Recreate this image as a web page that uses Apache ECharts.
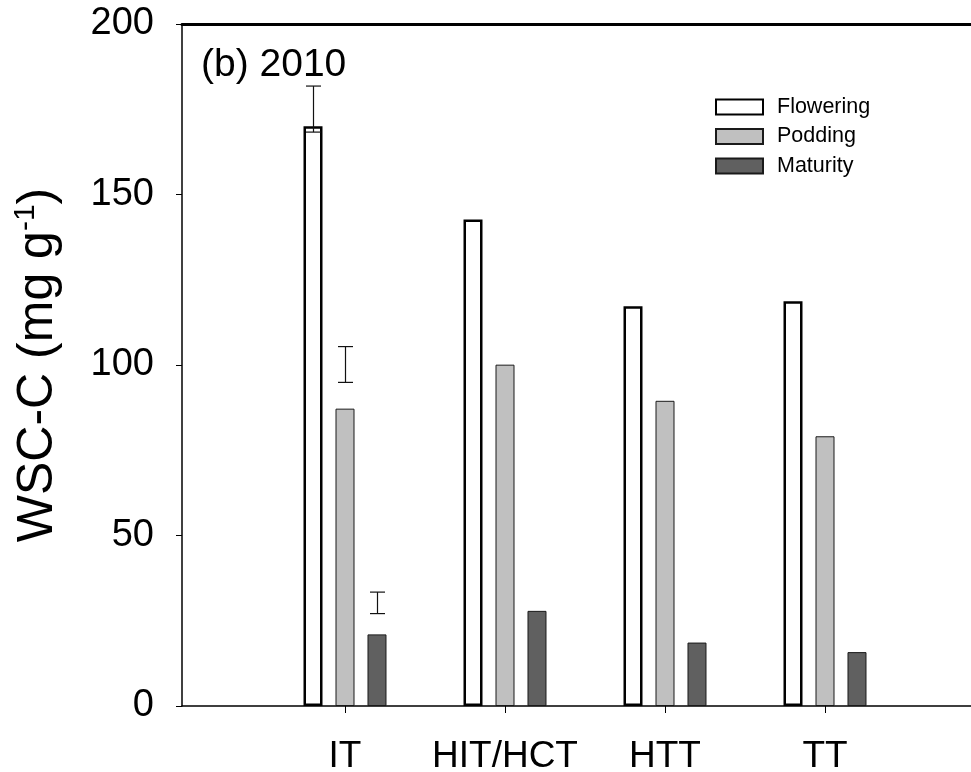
<!DOCTYPE html>
<html>
<head>
<meta charset="utf-8">
<script src="https://cdn.jsdelivr.net/npm/echarts@6/dist/echarts.min.js"></script>
<style>html,body{margin:0;padding:0;background:#fff;}#c{width:971px;height:772px;}</style>
</head>
<body>
<div id="c"></div>
<script>
// ---- data ----
const categories = ['IT', 'HIT/HCT', 'HTT', 'TT'];
const seriesNames = ['Flowering', 'Podding', 'Maturity'];
const flowering = [170.0, 142.7, 117.2, 118.7];
const podding   = [87.2, 100.1, 89.5, 79.1];
const maturity  = [21.0, 27.9, 18.6, 15.8];
// error bars: [categoryIndex, low, high]
const floweringErr = [[0, 168.3, 181.8]];
const poddingErr   = [[0, 94.9, 105.4]];
const maturityErr  = [[0, 27.1, 33.4]];
const yMin = 0, yMax = 200, yStep = 50;

// ---- styling ----
const FONT = '"Liberation Sans", Arial, Helvetica, sans-serif';
const BAR_W = 19;
const BAR_PITCH = 32; // centre-to-centre distance of bars in a group
const barGap = ((BAR_PITCH - BAR_W) / BAR_W * 100).toFixed(1) + '%';

function errSeries(data, k) {
  const offset = (k - 1) * BAR_PITCH;
  return {
    type: 'custom', xAxisIndex: 2, yAxisIndex: 1, z: 10, silent: true,
    encode: { x: 0, y: [1, 2] },
    data: data,
    renderItem: function (params, api) {
      const lo = api.coord([api.value(0), api.value(1)]);
      const hi = api.coord([api.value(0), api.value(2)]);
      const cx = Math.round(lo[0] + offset) + 0.5;
      const hw = 7.5;
      const st = { stroke: '#111', lineWidth: 1.2 };
      return {
        type: 'group',
        children: [
          { type: 'line', shape: { x1: cx, y1: lo[1], x2: cx, y2: hi[1] }, style: st },
          { type: 'line', shape: { x1: cx - hw, y1: lo[1], x2: cx + hw, y2: lo[1] }, style: st },
          { type: 'line', shape: { x1: cx - hw, y1: hi[1], x2: cx + hw, y2: hi[1] }, style: st }
        ]
      };
    }
  };
}

const chart = echarts.init(document.getElementById('c'), null, { renderer: 'canvas' });
const option = {
  animation: false,
  backgroundColor: '#fff',
  textStyle: { fontFamily: FONT, color: '#000' },
  title: {
    text: '(b) 2010', left: 196, top: 41,
    textStyle: { fontSize: 39, fontWeight: 'normal', color: '#000', fontFamily: FONT }
  },
  legend: {
    orient: 'vertical', left: 710, top: 91,
    itemWidth: 47, itemHeight: 15, itemGap: 7.5,
    icon: 'rect',
    data: seriesNames,
    textStyle: { fontSize: 21.5, color: '#000', fontFamily: FONT, padding: [0, 0, 0, 9] }
  },
  grid: [
    { left: 182, right: 0, top: 24, bottom: 66, outerBoundsMode: 'none', containLabel: false },
    { left: 265, width: 640, top: 24, bottom: 66, outerBoundsMode: 'none', containLabel: false }
  ],
  xAxis: [
    { gridIndex: 0, type: 'value', min: 0, max: 1, position: 'bottom',
      axisLine: { show: true, lineStyle: { color: '#000', width: 1.5 } },
      axisTick: { show: false }, axisLabel: { show: false }, splitLine: { show: false } },
    { gridIndex: 0, type: 'value', min: 0, max: 1, position: 'top',
      axisLine: { show: true, lineStyle: { color: '#000', width: 3 } },
      axisTick: { show: false }, axisLabel: { show: false }, splitLine: { show: false } },
    { gridIndex: 1, type: 'category', data: categories, position: 'bottom',
      axisLine: { show: false },
      axisTick: { show: true, alignWithLabel: true, length: 7, lineStyle: { color: '#000', width: 1 } },
      axisLabel: { fontSize: 37, color: '#000', margin: 32, interval: 0, fontFamily: FONT } }
  ],
  yAxis: [
    { gridIndex: 0, type: 'value', min: yMin, max: yMax, interval: yStep,
      axisLine: { show: true, lineStyle: { color: '#000', width: 1.5 } },
      axisTick: { show: true, length: 6, lineStyle: { color: '#000', width: 1 } },
      axisLabel: { fontSize: 38, color: '#000', margin: 28, fontFamily: FONT },
      splitLine: { show: false },
      name: '{a|WSC-C (mg g}{s|-1}{a|)}',
      nameLocation: 'middle', nameGap: 116,
      nameTextStyle: {
        color: '#000', fontFamily: FONT,
        rich: {
          a: { fontSize: 50, lineHeight: 55, fontFamily: FONT, color: '#000', verticalAlign: 'middle' },
          s: { fontSize: 30, lineHeight: 30, fontFamily: FONT, color: '#000', verticalAlign: 'top' }
        }
      } },
    { gridIndex: 1, type: 'value', min: yMin, max: yMax, show: false }
  ],
  series: [
    { type: 'bar', name: seriesNames[0], xAxisIndex: 2, yAxisIndex: 1, data: flowering,
      barWidth: BAR_W, barGap: barGap,
      itemStyle: { color: '#ffffff', borderColor: '#000', borderWidth: 2.5 } },
    { type: 'bar', name: seriesNames[1], xAxisIndex: 2, yAxisIndex: 1, data: podding,
      barWidth: BAR_W, barGap: barGap,
      itemStyle: { color: '#c0c0c0', borderColor: '#1a1a1a', borderWidth: 1 } },
    { type: 'bar', name: seriesNames[2], xAxisIndex: 2, yAxisIndex: 1, data: maturity,
      barWidth: BAR_W, barGap: barGap,
      itemStyle: { color: '#606060', borderColor: '#1a1a1a', borderWidth: 1 } },
    errSeries(floweringErr, 0),
    errSeries(poddingErr, 1),
    errSeries(maturityErr, 2)
  ]
};
chart.setOption(option);
</script>
</body>
</html>
